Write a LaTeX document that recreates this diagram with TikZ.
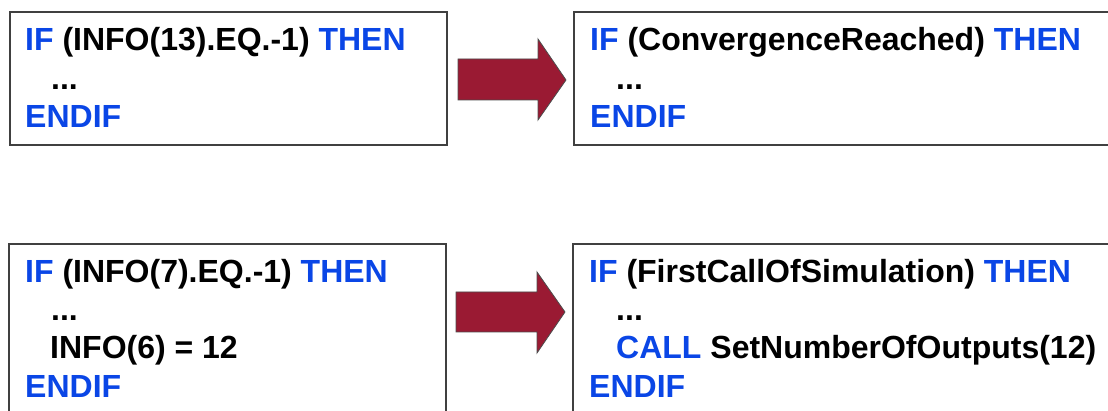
\documentclass[tikz,border=0pt]{standalone}
\usepackage{fontspec}
\setmainfont{Liberation Sans}
\definecolor{kwblue}{HTML}{0A46E6}
\definecolor{arrowred}{HTML}{9A1A33}
\definecolor{boxgray}{HTML}{404040}
\begin{document}
\begin{tikzpicture}[x=1pt,y=-1pt,
  codebox/.style={draw=boxgray,line width=1.3pt},
  codeline/.style={anchor=base west,inner sep=0pt,font=\fontsize{32}{38}\selectfont\bfseries},
  bigarrow/.style={fill=arrowred,draw=black!70,line width=0.8pt,line join=miter}]
\useasboundingbox (0,0) rectangle (1108,411);
\clip (0,0) rectangle (1108,411);
\newcommand{\kw}[1]{\textcolor{kwblue}{#1}}
% boxes
\draw[codebox] (10,12) rectangle (447,145);
\draw[codebox] (574,12) rectangle (1130,145);
\draw[codebox] (9,244) rectangle (446,440);
\draw[codebox] (573,244) rectangle (1130,440);
% arrows
\draw[bigarrow] (458,59) -- (538,59) -- (538,39) -- (566,80) -- (538,120) -- (538,100) -- (458,100) -- cycle;
\draw[bigarrow] (456,292) -- (537,292) -- (537,272) -- (565,312) -- (537,353) -- (537,332) -- (456,332) -- cycle;
% top-left text
\node[codeline] (t1a) at (25,51) {\kw{IF} (INFO(13).EQ.-1) \kw{THEN}};
\node[codeline] (t1b) at (51,89.5) {...};
\node[codeline] (t1c) at (25,128) {\kw{ENDIF}};
% top-right text
\node[codeline] (t2a) at (590,51) {\kw{IF} (ConvergenceReached) \kw{THEN}};
\node[codeline] (t2b) at (616,89.5) {...};
\node[codeline] (t2c) at (590,128) {\kw{ENDIF}};
% bottom-left text
\node[codeline] (t3a) at (25,283) {\kw{IF} (INFO(7).EQ.-1) \kw{THEN}};
\node[codeline] (t3b) at (51,320.5) {...};
\node[codeline] (t3c) at (50,359) {INFO(6) = 12};
\node[codeline] (t3d) at (25,397) {\kw{ENDIF}};
% bottom-right text
\node[codeline] (t4a) at (589,283) {\kw{IF} (FirstCallOfSimulation) \kw{THEN}};
\node[codeline] (t4b) at (616,320.5) {...};
\node[codeline] (t4c) at (616,359) {\kw{CALL} SetNumberOfOutputs(12)};
\node[codeline] (t4d) at (589,397) {\kw{ENDIF}};
\end{tikzpicture}
\end{document}
